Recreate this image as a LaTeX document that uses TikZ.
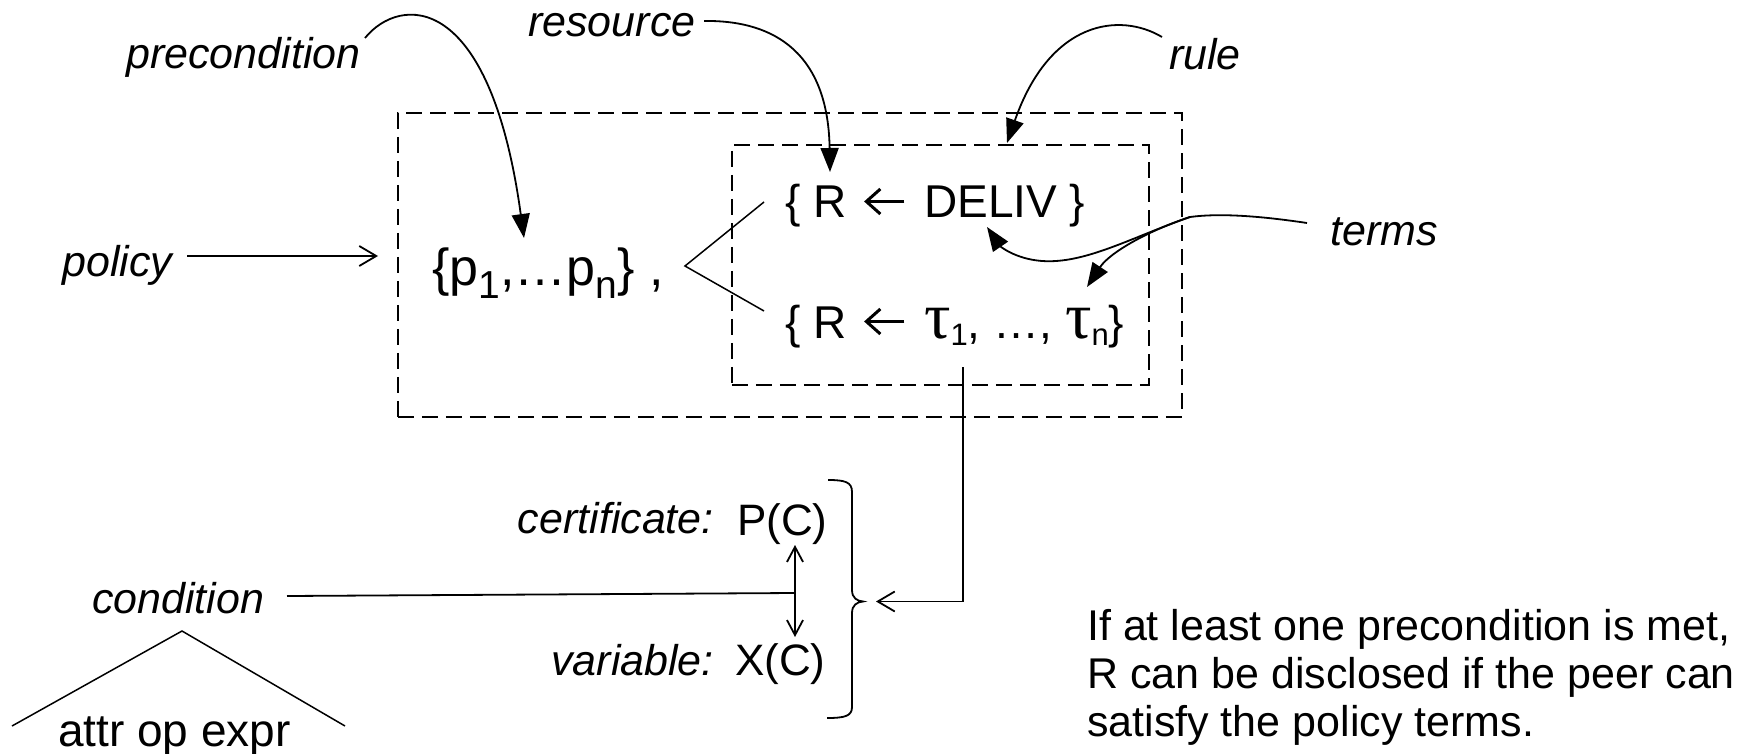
\documentclass[tikz,border=0pt]{standalone}
\usepackage{fontspec}
\setmainfont{Liberation Sans}
\newfontfamily\greekserif{Liberation Serif}
\usetikzlibrary{arrows.meta}

% font size helper and lowered subscripts: size, drop, text
\newcommand\fs[1]{\fontsize{#1}{#1}\selectfont}
\newcommand\lowered[3]{\raisebox{-#2pt}{\fs{#1}#3}}
\newcommand\tauglyph{{\greekserif\fs{66}τ}}
% open-headed left arrow used inside the rule formulas
\newcommand\larrow{\tikz[baseline=0pt,x=1pt,y=1pt]{%
  \path (0,0) rectangle (52,30);
  \draw[line width=3pt,line cap=butt] (45,16.5) -- (8,16.5);
  \draw[line width=3pt,line join=miter] (21,29) -- (7,16.5) -- (21,4);}}

\begin{document}
\begin{tikzpicture}[x=1pt,y=-1pt,
  lbl/.style={font=\fs{43}\itshape, inner sep=0pt},
  txt/.style={font=\fs{46}, inner sep=0pt},
  note/.style={font=\fs{43}, inner sep=0pt, anchor=base west},
  dashbox/.style={draw, dash pattern=on 16pt off 8pt, line width=1.6pt, inner sep=0pt},
  conn/.style={line width=1.8pt},
  thin/.style={line width=1.5pt},
  solidtip/.style={-{Triangle[length=24pt,width=18pt]}},
  opentip/.style={-{Straight Barb[length=17pt,width=20pt,line width=1.8pt]}},
  bothopen/.style={{Straight Barb[length=15pt,width=16pt,line width=1.8pt]}-{Straight Barb[length=15pt,width=16pt,line width=1.8pt]}}
]
\path[use as bounding box] (0,0) rectangle (1745,754);

% dashed scopes
\node[dashbox, minimum width=784pt, minimum height=304pt, anchor=north west] (outer) at (397,112) {};
\node[dashbox, minimum width=417pt, minimum height=240pt, anchor=north west] (inner) at (731,144) {};

% labels
\node[lbl, anchor=base west] (lprec)  at (126,69)  {precondition};
\node[lbl, anchor=base west] (lres)   at (528,37)  {resource};
\node[lbl, anchor=base west] (lrule)  at (1169,70) {rule};
\node[lbl, anchor=base west] (lpol)   at (62,276)  {policy};
\node[lbl, anchor=base west] (lterms) at (1330,245) {terms};
\node[lbl, anchor=base west] (lcond)  at (92,613)  {condition};
\node[lbl, anchor=base east] (lcert) at (714,533) {certificate:};
\node[lbl, anchor=base east] (lvar)  at (714,675) {variable:};

% formulas
\node[txt, font=\fs{52}, anchor=base west] (pset) at (432,285)
  {\{p\lowered{39}{13}{1},…p\lowered{39}{13}{n}\} ,};
\node[txt, anchor=base west] (deliv) at (785,218) {\{ R \larrow\ DELIV \}};
\node[txt, anchor=base west] (taus) at (785,338)
  {\{ R \larrow\ \tauglyph\lowered{31}{7}{1}, …, \tauglyph\lowered{31}{7}{n}\}};
\node[txt, font=\fs{44}, anchor=base west] (pc) at (737,535) {P(C)};
\node[txt, font=\fs{44}, anchor=base west] (xc) at (735,675) {X(C)};
\node[txt, anchor=base west] (aoe) at (58,746) {attr op expr};

% note
\node[note] (n1) at (1087,640) {If at least one precondition is met,};
\node[note] (n2) at (1087,688) {R can be disclosed if the peer can};
\node[note] (n3) at (1087,736) {satisfy the policy terms.};

% connector end points
\coordinate (precA) at (365,38);
\coordinate (precB) at (524,238);
\coordinate (resA)  at (704,21);
\coordinate (resB)  at (830,172);
\coordinate (ruleA) at (1162,37);
\coordinate (ruleB) at (1007,143);
\coordinate (termA) at (1307,223);
\coordinate (termJ) at (1190,217);
\coordinate (termB) at (987,227);
\coordinate (termC) at (1087,287);
\coordinate (polA)  at (187,256);
\coordinate (polB)  at (378,256);
\coordinate (forkU) at (764,202);
\coordinate (forkM) at (685,266);
\coordinate (forkL) at (764,311);
\coordinate (tauA)  at (963,367);
\coordinate (brk)   at (876,601.5);
\coordinate (condA) at (287,596);
\coordinate (condB) at (795,593);
\coordinate (pcB)   at (795,545);
\coordinate (xcT)   at (795,637);
\coordinate (triT)  at (182,631);
\coordinate (triL)  at (12,726);
\coordinate (triR)  at (345,726);

% curved pointers
\draw[conn, solidtip] (precA) .. controls (400,-5) and (490,-10) .. (precB);
\draw[conn, solidtip] (resA) .. controls (765,20) and (828,45) .. (resB);
\draw[conn, solidtip] (ruleA) .. controls (1120,12) and (1050,20) .. (ruleB);
\draw[conn] (termA) .. controls (1260,216) and (1220,213) .. (termJ);
\draw[conn, solidtip] (termJ) .. controls (1130,238) and (1085,264) .. (1042,261)
  .. controls (1015,259) and (1000,246) .. (termB);
\draw[conn, solidtip] (termJ) .. controls (1150,230) and (1110,252) .. (termC);

% straight connectors
\draw[conn, opentip] (polA) -- (polB);
\draw[thin] (forkU) -- (forkM) -- (forkL);
\draw[conn, opentip] (tauA) |- (brk);
\draw[conn] (condA) -- (condB);
\draw[conn, bothopen] (pcB) -- (xcT);
\draw[thin] (triL) -- (triT) -- (triR);

% bracket grouping P(C) and X(C)
\draw[conn] (828,480) .. controls (845,480) and (852,482) .. (852,492)
  -- (852,590) .. controls (852,598) and (857,601) .. (863,601.5)
  .. controls (857,602) and (852,605) .. (852,613)
  -- (852,707) .. controls (852,716) and (845,718) .. (827,718);
\end{tikzpicture}
\end{document}
